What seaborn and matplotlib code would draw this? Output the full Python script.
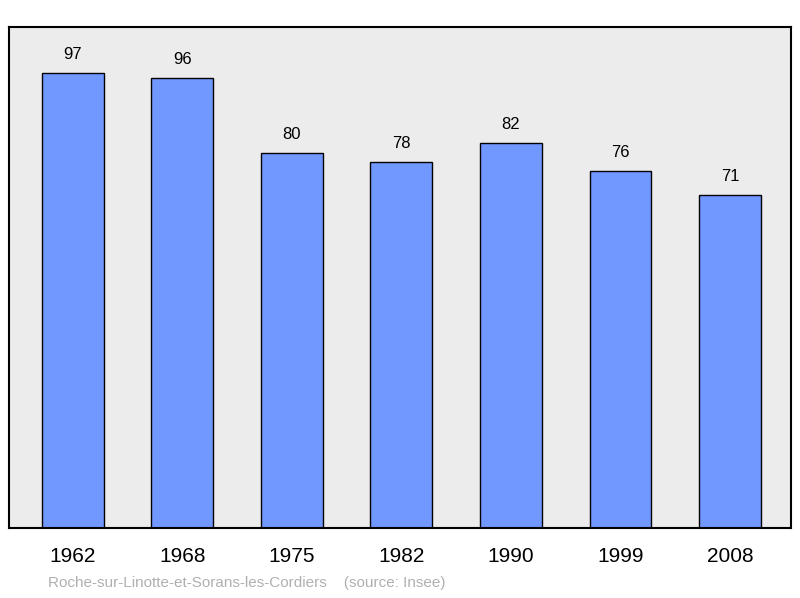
import matplotlib
matplotlib.use("Agg")
import matplotlib.pyplot as plt
import seaborn as sns
import pandas as pd

years = ["1962", "1968", "1975", "1982", "1990", "1999", "2008"]
population = [97, 96, 80, 78, 82, 76, 71]

df = pd.DataFrame({"year": years, "pop": population})
fig = plt.figure(figsize=(8, 5.98), dpi=100)
ax = fig.add_axes([9/800, 70/598, 782/800, 501/598])
ax.set_facecolor("#ececec")
sns.barplot(data=df, x="year", y="pop", color="#7098ff", saturation=1,
            width=0.566, edgecolor="black", linewidth=1, ax=ax)
ax.set_xlim(-0.584, 6.557)
ax.set_ylim(0, 106.8)
for i, v in enumerate(population):
    ax.annotate(str(v), (i, v), xytext=(0, 8), textcoords="offset points",
                ha="center", va="bottom", fontsize=12, family="Liberation Sans")
ax.set_yticks([])
ax.set_xlabel("")
ax.set_ylabel("")
ax.tick_params(axis="x", length=0, pad=14, labelsize=15)
for l in ax.get_xticklabels():
    l.set_family("Liberation Sans")
for s in ax.spines.values():
    s.set_linewidth(1.5)
    s.set_color("black")
fig.text(48/800, 1 - 583/598, "Roche-sur-Linotte-et-Sorans-les-Cordiers    (source: Insee)",
         color="#b0b0b0", fontsize=11, va="center", family="Liberation Sans")
fig.savefig("out.png", dpi=100)
